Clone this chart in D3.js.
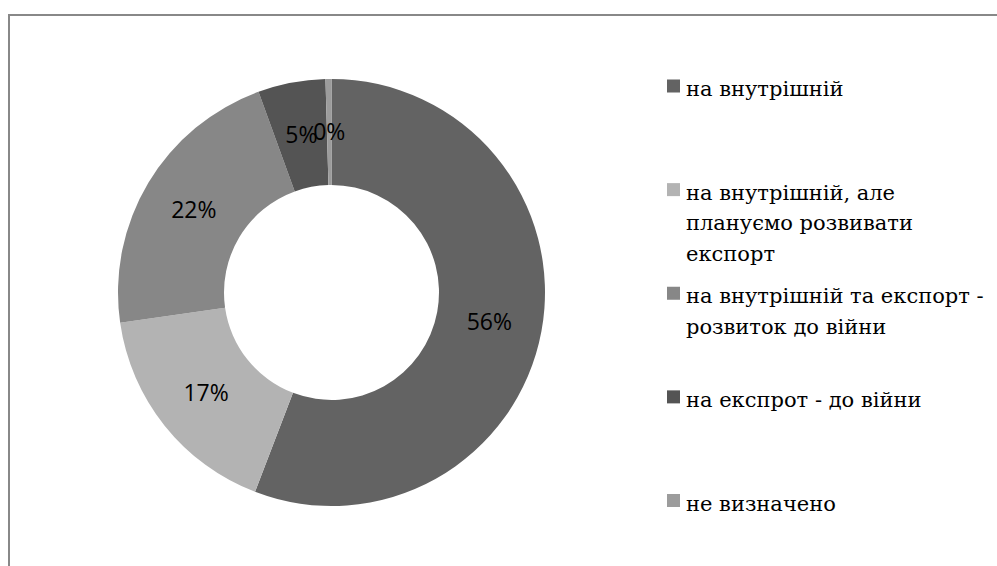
<!DOCTYPE html>
<html>
<head>
<meta charset="utf-8">
<script src="https://cdn.jsdelivr.net/npm/d3@7"></script>
<style>
  body { margin: 0; background: #fff; }
  svg { display: block; }
  .legend text { font-family: "DejaVu Serif", serif; }
</style>
</head>
<body>
<div id="chart"></div>
<script>
// chart data
var categories = [
  'на внутрішній',
  'на внутрішній, але планує розвивати експорт',
  'на внутрішній та експорт - розвиток до війни',
  'на експрот - до війни',
  'не визначено'
]
// legend lines as they wrap in the picture
var legendLines = [
  ['на внутрішній'],
  ['на внутрішній, але', 'плануємо розвивати', 'експорт'],
  ['на внутрішній та експорт -', 'розвиток до війни'],
  ['на експрот - до війни'],
  ['не визначено']
]
var values = [55.8, 16.9, 21.7, 5.1, 0.45]
var colors = ['#636363', '#b3b3b3', '#878787', '#545454', '#9c9c9c']

var svgWidth = 997
var svgHeight = 566

var svg = d3.select('#chart')
  .append('svg')
  .attr('width', svgWidth)
  .attr('height', svgHeight)

// chart area border (only top and left visible)
svg.append('rect')
  .attr('x', 9)
  .attr('y', 15)
  .attr('width', 1100)
  .attr('height', 700)
  .attr('fill', 'none')
  .attr('stroke', '#888')
  .attr('stroke-width', 2)

var cx = 331.5
var cy = 292.5
var outerR = 213.5
var innerR = 107.5

var pie = d3.pie().sort(null).value(d => d)
var arcs = pie(values)
var total = d3.sum(values)

var arc = d3.arc().innerRadius(innerR).outerRadius(outerR)
var labelArc = d3.arc().innerRadius((innerR + outerR) / 2).outerRadius((innerR + outerR) / 2)

var donut = svg.append('g')
  .attr('transform', `translate(${cx}, ${cy})`)

donut.selectAll('path')
  .data(arcs)
  .enter()
  .append('path')
  .attr('d', arc)
  .attr('fill', (d, i) => colors[i])

var fmt = d3.format('.0%')

donut.selectAll('text')
  .data(arcs)
  .enter()
  .append('text')
  .attr('transform', d => `translate(${labelArc.centroid(d)})`)
  .attr('text-anchor', 'middle')
  .attr('dy', '0.36em')
  .style('font-family', '"Open Sans", sans-serif')
  .style('font-size', '23px')
  .style('fill', '#000')
  .text(d => fmt(d.value / total))

// legend
var legendY = d3.scalePoint()
  .domain(categories)
  .range([86, 500.5])

var legend = svg.selectAll('.legend')
  .data(categories)
  .enter()
  .append('g')
  .attr('class', 'legend')
  .attr('transform', d => `translate(667, ${legendY(d)})`)

legend.append('rect')
  .attr('x', 0)
  .attr('y', -6.5)
  .attr('width', 13)
  .attr('height', 13)
  .attr('fill', (d, i) => colors[i])

legend.append('text')
  .attr('x', 19)
  .attr('y', 10)
  .attr('font-size', 21)
  .attr('fill', '#000')
  .each(function (d, i) {
    var t = d3.select(this)
    legendLines[i].forEach(function (line, j) {
      t.append('tspan')
        .attr('x', 19)
        .attr('dy', j === 0 ? 0 : 30.5)
        .text(line)
    })
  })
</script>
</body>
</html>
